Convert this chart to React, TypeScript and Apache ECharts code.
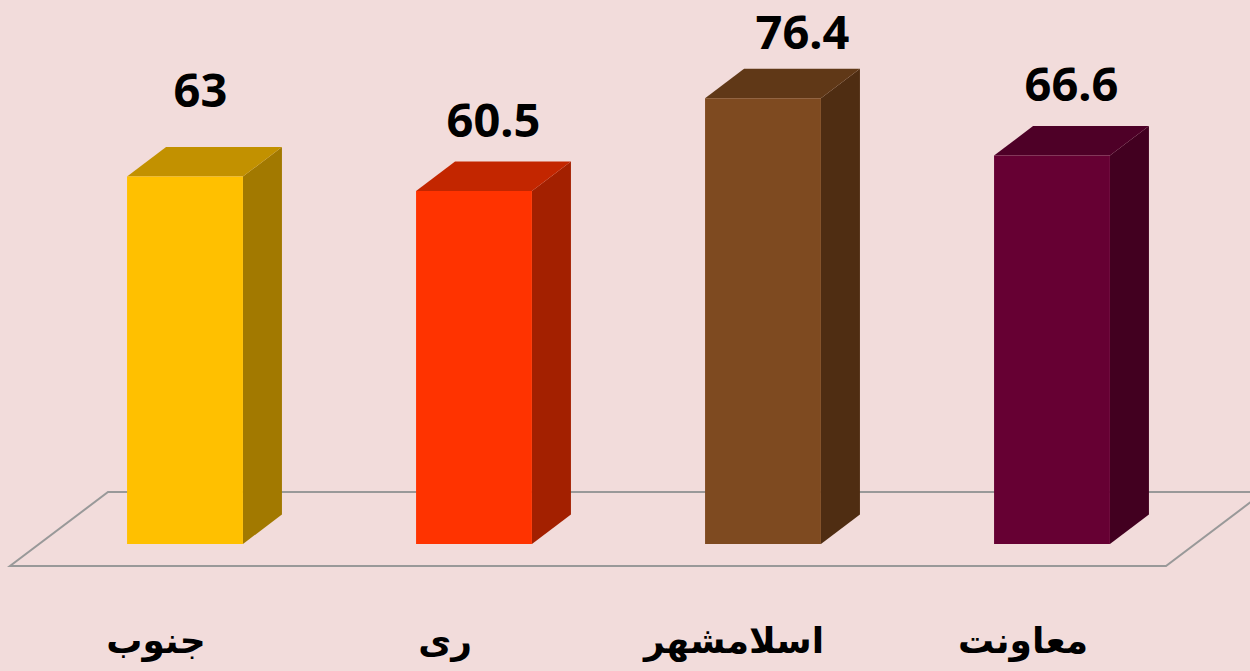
import React, { useEffect, useRef } from "react";
import * as echarts from "echarts";

const categories = ["جنوب", "ری", "اسلامشهر", "معاونت"];
const values = [63, 60.5, 76.4, 66.6];

const frontColors = ["#FFC000", "#FF3300", "#7E4A20", "#660033"];
const topColors = ["#C29100", "#C32600", "#603817", "#4E0027"];
const sideColors = ["#A27900", "#A32000", "#4F2D12", "#420020"];

const DX = 39;
const DY = 29.5;

export default function App() {
  const ref = useRef<HTMLDivElement>(null);
  useEffect(() => {
    if (!ref.current) return;
    const chart = echarts.init(ref.current, undefined, { renderer: "svg" });
    const data = values.map((v, i) => [i, v]);
    chart.setOption({
      animation: false,
      backgroundColor: "#F2DCDB",
      grid: { left: 40.5, right: 53.5, top: 19, bottom: 127, containLabel: false },
      graphic: [
        {
          type: "polygon",
          z: 0,
          silent: true,
          shape: {
            points: [
              [10, 566],
              [1166, 566],
              [1264, 492],
              [108, 492],
            ],
          },
          style: { fill: "none", stroke: "#999999", lineWidth: 2 },
        },
      ],
      xAxis: {
        type: "category",
        data: categories,
        axisLine: { show: false },
        axisTick: { show: false },
        splitLine: { show: false },
        axisLabel: {
          margin: 78,
          fontSize: 36,
          fontWeight: "bold",
          fontFamily: "DejaVu Sans",
          color: "#000",
          padding: [0, 58, 0, 0],
        },
      },
      yAxis: {
        type: "value",
        min: 0,
        max: 90,
        show: false,
        splitLine: { show: false },
      },
      series: [
        {
          type: "custom",
          z: 5,
          data,
          renderItem: (params: any, api: any) => {
            const idx = params.dataIndex;
            const base = api.coord([api.value(0), 0]);
            const topP = api.coord([api.value(0), api.value(1)]);
            const cx = base[0];
            const by = base[1];
            const ty = topP[1];
            const w = api.size([1, 0])[0] * 0.401;
            const l = cx - w / 2;
            const r = cx + w / 2;
            let lx = cx + DX / 2;
            let ly = ty - DY - 43;
            if (idx === 0) {
              lx -= 4;
              ly -= 15;
            }
            if (idx === 2) {
              lx += 20;
              ly += 5;
            }
            return {
              type: "group",
              children: [
                {
                  type: "polygon",
                  shape: { points: [[r, ty], [r + DX, ty - DY], [r + DX, by - DY], [r, by]] },
                  style: { fill: sideColors[idx] },
                },
                {
                  type: "polygon",
                  shape: { points: [[l, ty], [l + DX, ty - DY], [r + DX, ty - DY], [r, ty]] },
                  style: { fill: topColors[idx] },
                },
                {
                  type: "polygon",
                  shape: { points: [[l, ty], [r, ty], [r, by], [l, by]] },
                  style: { fill: frontColors[idx] },
                },
                {
                  type: "text",
                  style: {
                    x: lx,
                    y: ly,
                    text: String(values[idx]),
                    align: "center",
                    verticalAlign: "middle",
                    fontSize: 47,
                    fontWeight: "bold",
                    fontFamily: "Noto Sans",
                    fill: "#000",
                  },
                },
              ],
            };
          },
        },
      ],
    });
    return () => chart.dispose();
  }, []);
  return (
    <div
      ref={ref}
      style={{ position: "absolute", left: 0, top: 0, width: 1250, height: 671 }}
    />
  );
}
